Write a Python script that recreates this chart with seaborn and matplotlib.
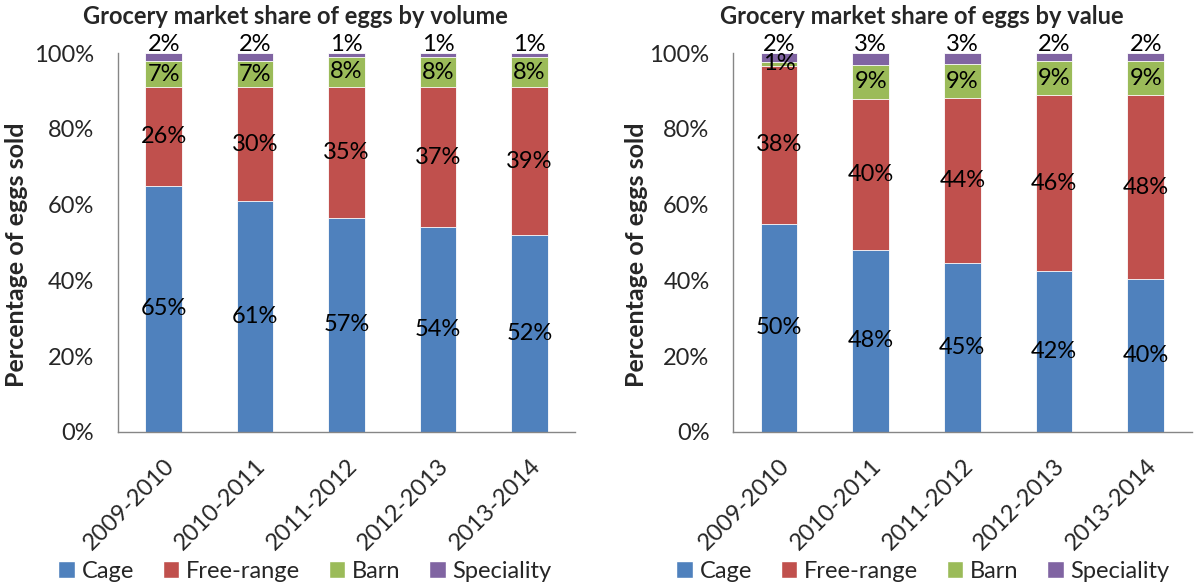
import numpy as np
import matplotlib
matplotlib.use("Agg")
import matplotlib.pyplot as plt
import seaborn as sns
from matplotlib.patches import Patch

# data (labels as printed; bars are normalised to 100%)
years = ["2009-2010", "2010-2011", "2011-2012", "2012-2013", "2013-2014"]
series = ["Cage", "Free-range", "Barn", "Speciality"]
colors = ["#4F81BD", "#C0504D", "#9BBB59", "#8064A2"]

vol_cage = [65, 61, 57, 54, 52]
vol_free = [26, 30, 35, 37, 39]
vol_barn = [7, 7, 8, 8, 8]
vol_spec = [2, 2, 1, 1, 1]

val_cage = [50, 48, 45, 42, 40]
val_free = [38, 40, 44, 46, 48]
val_barn = [1, 9, 9, 9, 9]
val_spec = [2, 3, 3, 2, 2]

titles = ["Grocery market share of eggs by volume", "Grocery market share of eggs by value"]

sns.set_style("white")
plt.rcParams['font.family'] = ['Lato', 'DejaVu Sans']

FS = 17

fig = plt.figure(figsize=(11.94, 5.85), dpi=100)
ax1 = fig.add_axes([0.0988, 0.262, 0.383, 0.647])
ax2 = fig.add_axes([0.614, 0.262, 0.384, 0.647])


def draw_panel(ax, data):
    arr = np.array(data, dtype=float)
    shares = arr / arr.sum(axis=0) * 100
    tops = np.cumsum(shares, axis=0)
    # draw cumulative bars from the top down so each one covers the next
    for i in range(len(series) - 1, -1, -1):
        sns.barplot(x=years, y=tops[i], color=colors[i], width=0.4,
                    edgecolor="white", linewidth=0.6, saturation=1, ax=ax)
    # value labels
    for i in range(len(series)):
        bottoms = tops[i] - shares[i]
        for j in range(len(years)):
            if i == 3:
                yy = 102.2
            else:
                yy = bottoms[j] + shares[i][j] / 2
            ax.text(j, yy, f"{int(arr[i][j])}%", ha="center", va="center",
                    fontsize=FS, color="black", clip_on=False)

    ax.set_xlim(-0.5, 4.5)
    ax.set_ylim(0, 100)
    ax.set_yticks(range(0, 101, 20))
    ax.set_yticklabels([f"{v}%" for v in range(0, 101, 20)], fontsize=FS)
    ax.set_xticks(range(len(years)))
    ax.set_xticklabels(years, rotation=45, ha="right", rotation_mode="anchor", fontsize=FS)
    ax.set_xticks(np.arange(-0.5, 5, 1), minor=True)
    ax.tick_params(axis="x", which="major", length=0, pad=17)
    ax.tick_params(axis="x", which="minor", length=6, color="#868686", width=1)
    ax.tick_params(axis="y", which="major", length=6, color="#868686", width=1, pad=11)
    for s in ["top", "right"]:
        ax.spines[s].set_visible(False)
    for s in ["left", "bottom"]:
        ax.spines[s].set_color("#868686")
        ax.spines[s].set_linewidth(1)
    ax.set_xlabel("")
    ax.set_ylabel("")


draw_panel(ax1, [vol_cage, vol_free, vol_barn, vol_spec])
draw_panel(ax2, [val_cage, val_free, val_barn, val_spec])

fig.text(295 / 1194, 1 - 17 / 585, titles[0], ha="center", va="center", fontsize=FS, fontweight="bold")
fig.text(922 / 1194, 1 - 17 / 585, titles[1], ha="center", va="center", fontsize=FS, fontweight="bold")
fig.text(17 / 1194, 1 - 255 / 585, "Percentage of eggs sold", rotation=90,
         ha="center", va="center", fontsize=18, fontweight="bold")
fig.text(637 / 1194, 1 - 255 / 585, "Percentage of eggs sold", rotation=90,
         ha="center", va="center", fontsize=18, fontweight="bold")

handles = [Patch(facecolor=c, label=s) for c, s in zip(colors, series)]
for cx in [305 / 1194, 923 / 1194]:
    fig.legend(handles=handles, loc="center", bbox_to_anchor=(cx, 1 - 571 / 585), ncol=4,
               frameon=False, fontsize=FS, handlelength=0.7, handleheight=0.7,
               handletextpad=0.3, columnspacing=1.2, borderpad=0)

fig.savefig("out.png", dpi=100)
